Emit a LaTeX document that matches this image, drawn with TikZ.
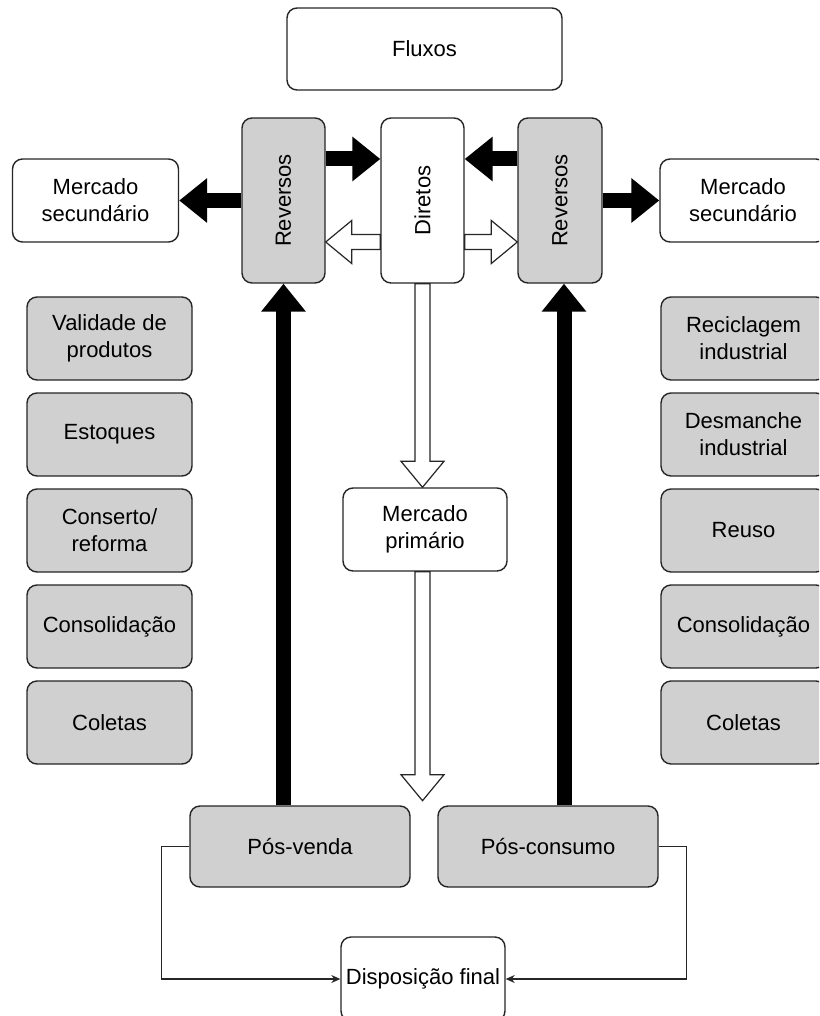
\documentclass[tikz,border=0pt]{standalone}
\usepackage{fontspec}
\setmainfont{Liberation Sans}
\usepackage{graphicx}
\usetikzlibrary{arrows.meta,calc}

\definecolor{boxgray}{RGB}{208,208,208}
\definecolor{edge}{RGB}{38,38,38}

\tikzset{
  base/.style={draw=edge, line width=1.4pt, rounded corners=10pt, inner sep=0pt,
    align=center, font=\fontsize{22}{27}\selectfont},
  whitebox/.style={base, fill=white},
  graybox/.style={base, fill=boxgray},
  sz/.style 2 args={minimum width=#1, minimum height=#2},
  bigarrow/.style={line width=15pt, black, -{Triangle[length=28pt,width=43pt]}},
  hollow/.style={draw=edge, fill=white, line width=1.2pt, line join=miter},
  thinarrow/.style={draw=edge, line width=1.2pt, -{Stealth[length=9pt,width=8pt]}},
}

% hollow block arrow between two named coordinates
\newcommand\hollowarrow[2]{%
  \coordinate (ha-b) at ($(#2)!26pt!(#1)$);
  \draw[hollow]
    ($(#1)!7.5pt!90:(#2)$) -- ($(ha-b)!7.5pt!90:(#2)$) --
    ($(ha-b)!21.5pt!90:(#2)$) -- (#2) --
    ($(ha-b)!21.5pt!-90:(#2)$) -- ($(ha-b)!7.5pt!-90:(#2)$) --
    ($(#1)!7.5pt!-90:(#2)$) -- cycle;
}

\begin{document}
\begin{tikzpicture}[x=1pt, y=-1pt]
\path[use as bounding box] (0,0) rectangle (819,1016);
\clip (0,0) rectangle (819,1016);
\fill[white] (0,0) rectangle (819,1016);

% top row
\node[whitebox, sz={275pt}{82pt}] (flux) at (424.5,49) {Fluxos};
\node[graybox, sz={83pt}{165pt}] (rl) at (283.5,200.5) {\rotatebox{90}{Reversos}};
\node[whitebox, sz={83pt}{165pt}] (dir) at (422.5,200.5) {\rotatebox{90}{Diretos}};
\node[graybox, sz={84pt}{165pt}] (rr) at (560,200.5) {\rotatebox{90}{Reversos}};
\node[whitebox, sz={166pt}{83pt}] (msl) at (95.5,200.5) {Mercado\\secundário};
\node[whitebox, sz={166pt}{83pt}] (msr) at (743,200.5) {Mercado\\secundário};

% left column
\node[graybox, sz={165pt}{83pt}] (l1) at (109.5,338.5) {Validade de\\produtos};
\node[graybox, sz={165pt}{83pt}] (l2) at (109.5,434.5) {Estoques};
\node[graybox, sz={165pt}{83pt}] (l3) at (109.5,530.5) {Conserto/\\reforma};
\node[graybox, sz={165pt}{83pt}] (l4) at (109.5,626.5) {Consolidação};
\node[graybox, sz={165pt}{83pt}] (l5) at (109.5,722.5) {Coletas};

% right column
\node[graybox, sz={165pt}{83pt}] (r1) at (743.5,338.5) {Reciclagem\\industrial};
\node[graybox, sz={165pt}{83pt}] (r2) at (743.5,434.5) {Desmanche\\industrial};
\node[graybox, sz={165pt}{83pt}] (r3) at (743.5,530.5) {Reuso};
\node[graybox, sz={165pt}{83pt}] (r4) at (743.5,626.5) {Consolidação};
\node[graybox, sz={165pt}{83pt}] (r5) at (743.5,722.5) {Coletas};

% centre and bottom
\node[whitebox, sz={164pt}{83pt}] (mp) at (425,529.5) {Mercado\\primário};
\node[graybox, sz={220pt}{81pt}] (pv) at (300,846.5) {Pós-venda};
\node[graybox, sz={220pt}{81pt}] (pc) at (548,846.5) {Pós-consumo};
\node[whitebox, sz={164pt}{84pt}] (df) at (423,979) {Disposição final};

% solid flows
\coordinate (rlE1) at ($(rl.east)+(0,-41.5)$);
\coordinate (rrW1) at ($(rr.west)+(0,-41.5)$);
\draw[bigarrow] (rlE1) -- (rlE1 -| dir.west);
\draw[bigarrow] (rrW1) -- (rrW1 -| dir.east);
\draw[bigarrow] (rl.west) -- (msl.east);
\draw[bigarrow] (rr.east) -- (msr.west);
\draw[bigarrow] (rl.south |- pv.north) -- (rl.south);
\coordinate (rrS) at ($(rr.south)+(4,0)$);
\draw[bigarrow] (rrS |- pc.north) -- (rrS);

% hollow flows
\coordinate (dW) at ($(dir.west)+(0,41.5)$);
\coordinate (dWe) at (dW -| rl.east);
\hollowarrow{dW}{dWe}
\coordinate (dE) at ($(dir.east)+(0,41.5)$);
\coordinate (dEe) at (dE -| rr.west);
\hollowarrow{dE}{dEe}
\coordinate (dS) at (dir.south);
\coordinate (mpN) at (dir.south |- mp.north);
\hollowarrow{dS}{mpN}
\coordinate (mpS) at (dir.south |- mp.south);
\coordinate (mpEnd) at ($(mpS)+(0,229)$);
\hollowarrow{mpS}{mpEnd}

% final disposal
\draw[thinarrow] (pv.west) -- ++(-28,0) |- (df.west);
\draw[thinarrow] (pc.east) -- ++(28,0) |- (df.east);
\end{tikzpicture}
\end{document}
